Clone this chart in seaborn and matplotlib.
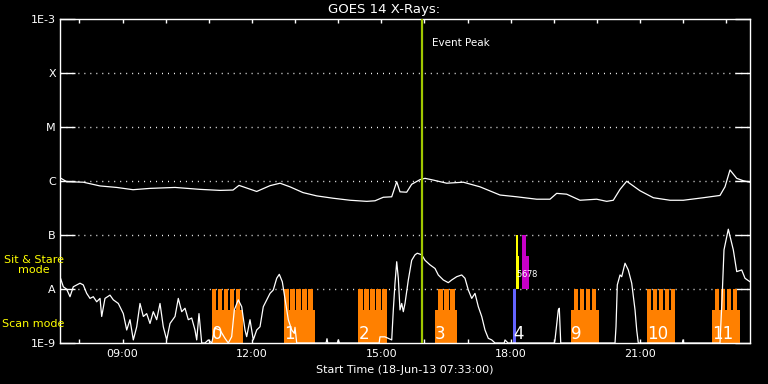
import numpy as np
import pandas as pd
import matplotlib
matplotlib.use("Agg")
import matplotlib.pyplot as plt
from matplotlib.ticker import FixedLocator, NullLocator
import seaborn as sns

# time axis in decimal hours (start 07:33, 16 h window)
t_start = 7.55
t_end = 23.55

# long channel (upper curve), W/m^2
long_hours = [7.573, 7.705, 8.090, 8.478, 8.865, 9.243, 9.637, 10.217, 10.796, 11.260,
              11.562, 11.701, 12.111, 12.420, 12.652, 12.883, 13.185, 13.503, 13.880, 14.275,
              14.662, 14.854, 15.047, 15.242, 15.358, 15.434, 15.589, 15.705, 15.898, 16.014,
              16.206, 16.517, 16.902, 17.289, 17.753, 18.140, 18.604, 18.912, 19.067, 19.299,
              19.608, 19.995, 20.227, 20.380, 20.536, 20.691, 20.999, 21.308, 21.695, 22.003,
              22.467, 22.854, 22.970, 23.086, 23.242, 23.395, 23.550]
long_flux = [1.12e-6, 9.7e-7, 9.5e-7, 8.1e-7, 7.6e-7, 6.9e-7, 7.3e-7, 7.6e-7, 7.0e-7, 6.7e-7,
             6.8e-7, 8.3e-7, 6.4e-7, 8.2e-7, 9.1e-7, 7.8e-7, 6.1e-7, 5.3e-7, 4.8e-7, 4.4e-7,
             4.2e-7, 4.3e-7, 5.0e-7, 5.1e-7, 9.7e-7, 6.3e-7, 6.2e-7, 8.7e-7, 1.06e-6, 1.12e-6,
             1.04e-6, 9.1e-7, 9.5e-7, 7.8e-7, 5.5e-7, 5.1e-7, 4.6e-7, 4.6e-7, 5.9e-7, 5.7e-7,
             4.4e-7, 4.6e-7, 4.2e-7, 4.4e-7, 7.0e-7, 9.9e-7, 6.6e-7, 4.9e-7, 4.4e-7, 4.4e-7,
             4.9e-7, 5.4e-7, 7.8e-7, 1.6e-6, 1.12e-6, 1.01e-6, 9.5e-7]

# short channel (lower curve), W/m^2
short_hours = [7.562, 7.627, 7.705, 7.782, 7.858, 7.937, 8.014, 8.090, 8.169, 8.246,
               8.322, 8.401, 8.478, 8.517, 8.593, 8.709, 8.786, 8.902, 9.018, 9.097,
               9.173, 9.250, 9.329, 9.405, 9.482, 9.560, 9.637, 9.713, 9.792, 9.869,
               9.945, 10.024, 10.101, 10.217, 10.293, 10.372, 10.449, 10.525, 10.604, 10.680,
               10.720, 10.773, 10.836, 10.912, 10.989, 11.068, 11.144, 11.260, 11.376, 11.453,
               11.531, 11.592, 11.684, 11.763, 11.840, 11.879, 11.956, 12.032, 12.111, 12.188,
               12.264, 12.343, 12.420, 12.496, 12.575, 12.635, 12.705, 12.767, 12.844, 12.923,
               12.983, 12.999, 13.039, 13.115, 13.720, 13.741, 13.760, 13.980, 14.003, 14.030,
               14.950, 14.970, 15.086, 15.242, 15.279, 15.318, 15.358, 15.395, 15.434, 15.474,
               15.511, 15.550, 15.627, 15.705, 15.782, 15.835, 15.937, 16.014, 16.130, 16.246,
               16.322, 16.438, 16.554, 16.633, 16.749, 16.865, 16.941, 17.018, 17.097, 17.173,
               17.250, 17.329, 17.405, 17.482, 17.561, 17.637, 17.850, 17.869, 17.939, 19.010,
               19.028, 19.105, 19.128, 19.161, 20.420, 20.443, 20.473, 20.536, 20.575, 20.652,
               20.728, 20.807, 20.884, 20.923, 20.960, 21.980, 21.996, 22.015, 22.854, 22.901,
               22.947, 23.047, 23.163, 23.242, 23.358, 23.434, 23.550]
short_flux = [1.58e-8, 1.10e-8, 9.9e-9, 7.2e-9, 1.10e-8, 1.19e-8, 1.28e-8, 1.19e-8, 8.3e-9, 6.7e-9,
              7.2e-9, 5.8e-9, 6.7e-9, 3.1e-9, 6.7e-9, 7.7e-9, 6.3e-9, 5.4e-9, 3.5e-9, 1.74e-9,
              2.7e-9, 1.14e-9, 2.0e-9, 5.4e-9, 3.1e-9, 3.5e-9, 2.3e-9, 3.8e-9, 2.7e-9, 5.4e-9,
              2.0e-9, 1.14e-9, 2.3e-9, 3.1e-9, 6.7e-9, 3.8e-9, 4.4e-9, 2.7e-9, 2.9e-9, 1.74e-9,
              1.14e-9, 3.5e-9, 1.0e-9, 1.0e-9, 1.14e-9, 1.0e-9, 1.87e-9, 1.74e-9, 1.22e-9, 1.0e-9,
              1.31e-9, 4.1e-9, 6.3e-9, 4.7e-9, 1.74e-9, 1.31e-9, 2.7e-9, 1.14e-9, 1.74e-9, 2.0e-9,
              4.7e-9, 6.3e-9, 8.3e-9, 9.6e-9, 1.58e-8, 1.87e-8, 1.36e-8, 6.7e-9, 2.7e-9, 1.74e-9,
              1.51e-9, 1.95e-9, 1.0e-9, 1.0e-9, 1.0e-9, 1.2e-9, 1.0e-9, 1.0e-9, 1.14e-9, 1.0e-9,
              1.0e-9, 1.3e-9, 1.3e-9, 1.14e-9, 4.1e-9, 1.28e-8, 3.2e-8, 1.58e-8, 4.1e-9, 5.4e-9,
              3.8e-9, 5.4e-9, 1.47e-8, 3.4e-8, 4.3e-8, 4.6e-8, 4.3e-8, 3.4e-8, 2.8e-8, 2.4e-8,
              1.82e-8, 1.47e-8, 1.31e-8, 1.47e-8, 1.69e-8, 1.82e-8, 1.58e-8, 9.6e-9, 6.7e-9, 8.3e-9,
              4.7e-9, 3.1e-9, 1.74e-9, 1.22e-9, 1.14e-9, 1.0e-9, 1.0e-9, 1.14e-9, 1.0e-9, 1.0e-9,
              1.14e-9, 4.1e-9, 4.4e-9, 1.0e-9, 1.0e-9, 2.0e-9, 1.19e-8, 1.82e-8, 1.69e-8, 3.0e-8,
              2.25e-8, 1.28e-8, 4.1e-9, 1.74e-9, 1.0e-9, 1.0e-9, 1.14e-9, 1.0e-9, 1.0e-9, 6.3e-9,
              5.3e-8, 1.28e-7, 5.3e-8, 2.1e-8, 2.25e-8, 1.58e-8, 1.36e-8]

# scan mode blocks (orange)
block_labels = ["0", "1", "2", "3", "9", "10", "11"]
block_start = [11.068, 12.751, 14.467, 16.246, 19.399, 21.155, 22.668]
block_end = [11.800, 13.463, 15.109, 16.749, 20.049, 21.804, 23.317]
block_level = 4.1e-9
tooth_starts = [
    [11.068, 11.207, 11.346, 11.485, 11.624],
    [12.751, 12.890, 13.029, 13.168, 13.307],
    [14.467, 14.606, 14.745, 14.884, 15.023],
    [16.322, 16.461, 16.600],
    [19.469, 19.608, 19.747, 19.886],
    [21.155, 21.294, 21.433, 21.572, 21.711],
    [22.737, 22.876, 23.015, 23.154],
]
tooth_width = 0.102
tooth_level = 1e-8

# block 4 (scan, blue) and sit & stare (yellow / magenta)
blue_start, blue_end = 18.047, 18.124
ss_colors = ["#ffff00", "#ffff00", "#c800c8", "#c800c8"]
ss_start = [18.124, 18.124, 18.263, 18.263]
ss_end = [18.170, 18.200, 18.349, 18.426]
ss_top = [1e-7, 4.1e-8, 1e-7, 4.1e-8]
ss_labels = ["5", "6", "7", "8"]
ss_label_x = [18.14, 18.25, 18.36, 18.47]

event_peak = 15.937

goes_levels = [1e-9, 1e-8, 1e-7, 1e-6, 1e-5, 1e-4, 1e-3]
goes_names = ["1E-9", "A", "B", "C", "M", "X", "1E-3"]
hour_ticks = [9, 12, 15, 18, 21]
hour_labels = ["09:00", "12:00", "15:00", "18:00", "21:00"]
minor_hours = list(range(8, 24))

sns.set_theme(style="dark", rc={
    "figure.facecolor": "black", "axes.facecolor": "black",
    "axes.edgecolor": "white", "text.color": "white",
    "xtick.color": "white", "ytick.color": "white",
    "axes.grid": False,
})
plt.rcParams["font.family"] = ["DejaVu Sans"]

fig = plt.figure(figsize=(7.68, 3.84), dpi=100)
ax = fig.add_axes([60 / 768, 1 - 343 / 384, 690 / 768, 324 / 384])
ax.set_yscale("log")

# dotted level lines
for lv in goes_levels[1:-1]:
    ax.axhline(lv, color="white", lw=1.0, ls=(0, (0.7, 3.6)), zorder=1)

# scan blocks
ax.bar(block_start, [block_level - 1e-9] * len(block_start),
       width=np.array(block_end) - np.array(block_start), bottom=1e-9,
       align="edge", color="#ff8000", lw=0, zorder=2)
teeth = [t for blk in tooth_starts for t in blk]
ax.bar(teeth, [tooth_level - 1e-9] * len(teeth), width=tooth_width, bottom=1e-9,
       align="edge", color="#ff8000", lw=0, zorder=2)
ax.bar([blue_start], [1e-8 - 1e-9], width=blue_end - blue_start, bottom=1e-9,
       align="edge", color="#6464ff", lw=0, zorder=2)
for c, s, e, top in zip(ss_colors, ss_start, ss_end, ss_top):
    ax.bar([s], [top - 1e-8], width=e - s, bottom=1e-8, align="edge",
           color=c, lw=0, zorder=2)

# curves
df_long = pd.DataFrame({"hour": long_hours, "flux": long_flux})
df_short = pd.DataFrame({"hour": short_hours, "flux": short_flux})
sns.lineplot(data=df_long, x="hour", y="flux", ax=ax, color="white", lw=0.9,
             estimator=None, sort=False, zorder=3)
sns.lineplot(data=df_short, x="hour", y="flux", ax=ax, color="white", lw=0.9,
             estimator=None, sort=False, zorder=3)

# event peak
ax.axvline(event_peak, color="#a0c800", lw=1.6, zorder=4)
ax.text(event_peak + 0.24, 3.6e-4, "Event Peak", color="white", fontsize=7.5,
        va="center", ha="left")

# block numbers
for lab, s in zip(block_labels, block_start):
    ax.text(s, 1.2e-9, lab, color="white", fontsize=12, ha="left",
            va="baseline", zorder=5)
ax.text(blue_start + 0.01, 1.2e-9, "4", color="white", fontsize=12, ha="left",
        va="baseline", zorder=5)
for lab, x in zip(ss_labels, ss_label_x):
    ax.text(x, 1.67e-8, lab, color="white", fontsize=6, ha="left",
            va="baseline", zorder=5)

ax.set_xlim(t_start, t_end)
ax.set_ylim(1e-9, 1e-3)
ax.yaxis.set_major_locator(FixedLocator(goes_levels))
ax.yaxis.set_minor_locator(NullLocator())
ax.set_yticklabels(goes_names)
ax.xaxis.set_major_locator(FixedLocator(hour_ticks))
ax.xaxis.set_minor_locator(FixedLocator(minor_hours))
ax.set_xticklabels(hour_labels)
ax.tick_params(axis="y", which="major", direction="in", length=10.5, width=1,
               left=True, right=True, labelsize=8, pad=3)
ax.tick_params(axis="x", which="both", direction="in", length=3, width=1,
               bottom=True, top=True, labelsize=8, pad=4)
ax.set_xlabel("")
ax.set_ylabel("")
for sp in ax.spines.values():
    sp.set_color("white")
    sp.set_linewidth(1)

fig.text(0.5, 1 - 9 / 384, "GOES 14 X-Rays:", ha="center", va="center",
         fontsize=9.5, color="white")
fig.text((60 + 750) / 2 / 768, 1 - 370 / 384, "Start Time (18-Jun-13 07:33:00)",
         ha="center", va="center", fontsize=8, color="white")
fig.text(34 / 768, 1 - 265 / 384, "Sit & Stare\nmode", ha="center", va="center",
         fontsize=8, color="yellow", linespacing=1.1)
fig.text(2 / 768, 1 - 324 / 384, "Scan mode", ha="left", va="center",
         fontsize=8, color="yellow")

fig.savefig("out.png", dpi=100, facecolor="black")
